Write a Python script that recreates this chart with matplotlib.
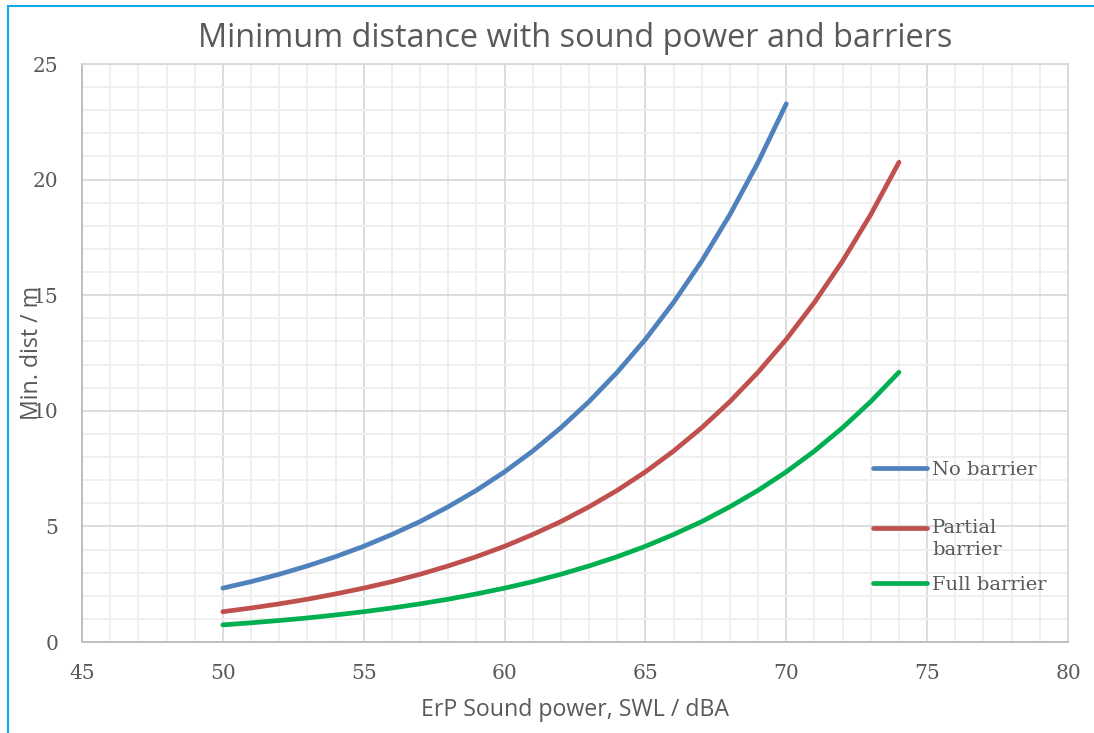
import matplotlib
matplotlib.use("Agg")
import matplotlib.pyplot as plt
from matplotlib.patches import Rectangle
from matplotlib.ticker import MultipleLocator

# sound power levels (dBA)
swl_none = list(range(50, 71))
swl_barrier = list(range(50, 75))

# minimum distance (m)
no_barrier = [2.33, 2.61, 2.93, 3.29, 3.69, 4.14, 4.65, 5.21, 5.85, 6.56, 7.36,
              8.26, 9.27, 10.40, 11.67, 13.09, 14.69, 16.48, 18.49, 20.75, 23.28]
partial_barrier = [1.31, 1.47, 1.65, 1.85, 2.08, 2.33, 2.61, 2.93, 3.29, 3.69, 4.14,
                   4.65, 5.21, 5.85, 6.56, 7.36, 8.26, 9.27, 10.40, 11.67, 13.09,
                   14.69, 16.48, 18.49, 20.75]
full_barrier = [0.74, 0.83, 0.93, 1.04, 1.17, 1.31, 1.47, 1.65, 1.85, 2.08, 2.33,
                2.61, 2.93, 3.29, 3.69, 4.14, 4.65, 5.21, 5.85, 6.56, 7.36, 8.26,
                9.27, 10.40, 11.67]

labels = ["No barrier", "\nPartial\nbarrier", "Full barrier"]
colors = ["#4F81BD", "#C0504D", "#00B050"]

grey = "#595959"
W, H = 1094, 733
fig = plt.figure(figsize=(W / 100, H / 100), dpi=100)
ax = fig.add_axes([82 / W, 1 - 642 / H, (1068 - 82) / W, (642 - 64) / H])

ax.plot(swl_none, no_barrier, color=colors[0], lw=3.4, solid_capstyle="round", label=labels[0])
ax.plot(swl_barrier, partial_barrier, color=colors[1], lw=3.4, solid_capstyle="round", label=labels[1])
ax.plot(swl_barrier, full_barrier, color=colors[2], lw=3.4, solid_capstyle="round", label=labels[2])

ax.set_xlim(45, 80)
ax.set_ylim(0, 25)
ax.xaxis.set_major_locator(MultipleLocator(5))
ax.yaxis.set_major_locator(MultipleLocator(5))
ax.xaxis.set_minor_locator(MultipleLocator(1))
ax.yaxis.set_minor_locator(MultipleLocator(1))
ax.grid(which="major", color="#D9D9D9", lw=1.3)
ax.grid(which="minor", color="#EFEFEF", lw=1.4)
ax.set_axisbelow(True)

for s in ["left", "bottom"]:
    ax.spines[s].set_color("#BFBFBF")
    ax.spines[s].set_linewidth(1.4)
for s in ["top", "right"]:
    ax.spines[s].set_color("#D9D9D9")
    ax.spines[s].set_linewidth(1.3)

ax.tick_params(which="both", length=0)
ax.tick_params(axis="y", pad=17)
ax.tick_params(axis="x", pad=16)
for t in ax.get_xticklabels() + ax.get_yticklabels():
    t.set_fontfamily("DejaVu Serif")
    t.set_fontsize(14.5)
    t.set_color(grey)

ax.set_title("Minimum distance with sound power and barriers", fontsize=23.4,
             family="Open Sans", color=grey, pad=12)
ax.set_xlabel("ErP Sound power, SWL / dBA", fontsize=16.7, family="Open Sans", color=grey)
ax.xaxis.set_label_coords(0.5, -0.097)
# label sits over the tick numbers, as in the original
ax.set_ylabel("Min. dist / m", fontsize=16.7, family="Open Sans", color=grey)
ax.yaxis.set_label_coords(-0.039, 0.5)

leg = ax.legend(loc="upper left", bbox_to_anchor=(0.802, 0.313), frameon=False,
                prop={"family": "DejaVu Serif", "size": 14}, handlelength=2.8,
                handletextpad=0.25, labelspacing=0.85, borderaxespad=0, borderpad=0)
for t in leg.get_texts():
    t.set_color(grey)
    t.set_linespacing(1.35)

fig.patches.append(Rectangle((8 / W, -0.1), 1.2, 1 - 6 / H + 0.1, transform=fig.transFigure,
                             fill=False, edgecolor="#11A8E8", lw=1.5))

fig.savefig("out.png", dpi=100)
